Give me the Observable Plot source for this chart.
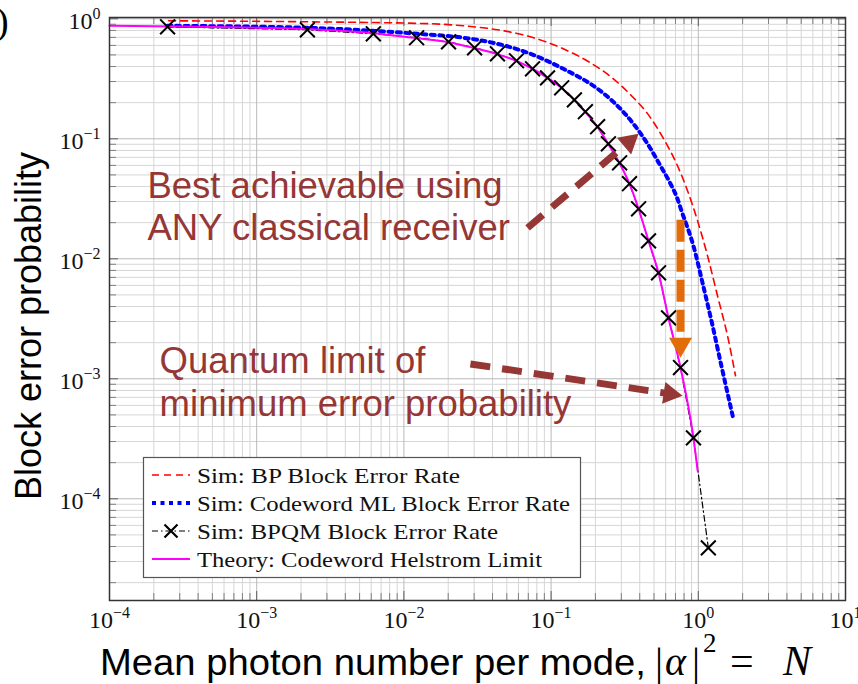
<!DOCTYPE html>
<html>
<head>
<meta charset="utf-8">
<script src="https://cdn.jsdelivr.net/npm/d3@7"></script>
<script src="https://cdn.jsdelivr.net/npm/@observablehq/plot@0.6"></script>
<style>
  html, body { margin: 0; padding: 0; background: #fff; }
  #chart svg { display: block; }
</style>
</head>
<body>
<div id="chart"></div>
<script>
// ---------------- data ----------------
// Sim: BP Block Error Rate (red dashed)
const bpN = [2.52e-4, 2.21e-3, 0.0152, 0.0254, 0.0432, 0.0724, 0.121, 0.185, 0.265, 0.346, 0.452, 0.581, 0.722, 0.845, 0.989, 1.16, 1.35, 1.58, 1.79];
const bpP = [0.962, 0.944, 0.909, 0.874, 0.810, 0.708, 0.562, 0.43, 0.316, 0.233, 0.162, 0.1, 0.0596, 0.0369, 0.0207, 0.0104, 0.00492, 0.00228, 0.00106];
// Sim: Codeword ML Block Error Rate (blue dotted)
const mlN = [2.48e-4, 2.21e-3, 6.2e-3, 0.0124, 0.0254, 0.0432, 0.0724, 0.121, 0.207, 0.265, 0.363, 0.452, 0.553, 0.647, 0.722, 0.769, 0.927, 1.08, 1.25, 1.42, 1.73];
const mlP = [0.874, 0.841, 0.794, 0.750, 0.695, 0.619, 0.511, 0.383, 0.261, 0.203, 0.133, 0.0908, 0.0596, 0.0422, 0.0316, 0.0251, 0.0128, 0.00596, 0.00277, 0.00136, 0.000464];
// Sim: BPQM Block Error Rate (black crosses, dash-dot)
const bpqmN = [2.48e-4, 2.21e-3, 6.2e-3, 0.0122, 0.0201, 0.0302, 0.0432, 0.0582, 0.0748, 0.0946, 0.118, 0.144, 0.171, 0.207, 0.245, 0.292, 0.341, 0.393, 0.459, 0.537, 0.628, 0.757, 0.927, 1.17];
const bpqmP = [0.857, 0.81, 0.75, 0.695, 0.643, 0.573, 0.511, 0.447, 0.383, 0.322, 0.266, 0.211, 0.168, 0.126, 0.0908, 0.0631, 0.0422, 0.0261, 0.0141, 0.00764, 0.00322, 0.00124, 3.22e-4, 3.9e-5];
// Theory: Codeword Helstrom Limit (magenta)
const helN = [1e-4, 1e-3, 2.5e-3, 6e-3, 0.012, 0.02, 0.03, 0.043, 0.058, 0.075, 0.095, 0.118, 0.144, 0.171, 0.207, 0.245, 0.292, 0.341, 0.393, 0.459, 0.537, 0.628, 0.757, 0.927, 0.99];
const helP = [0.874, 0.841, 0.815, 0.762, 0.69, 0.638, 0.57, 0.508, 0.446, 0.382, 0.321, 0.265, 0.21, 0.167, 0.125, 0.09, 0.0625, 0.042, 0.026, 0.0141, 0.0076, 0.0032, 0.00124, 3.22e-4, 1.71e-4];

const xTickDecades = [1e-4, 1e-3, 1e-2, 1e-1, 1, 10];
const yTickDecades = [1e-4, 1e-3, 1e-2, 1e-1, 1];
const minorMultipliers = [2, 3, 4, 5, 6, 7, 8, 9];

const legendLabels = ["Sim: BP Block Error Rate", "Sim: Codeword ML Block Error Rate", "Sim: BPQM Block Error Rate", "Theory: Codeword Helstrom Limit"];

const annotText = ["Best achievable using", "ANY classical receiver", "Quantum limit of", "minimum error probability"];
const annotN = [1.81e-4, 1.81e-4, 2.19e-4, 2.19e-4];
const annotP = [0.0322, 0.0144, 1.12e-3, 4.92e-4];

// annotation arrows: tail (N1,P1) -> tip (N2,P2)
const arrowN1 = [0.0692, 0.0283, 0.757];
const arrowP1 = [0.0181, 0.00133, 0.0211];
const arrowN2 = [0.393, 0.782, 0.757];
const arrowP2 = [0.110, 7.22e-4, 0.0015];

// ---------------- layout ----------------
const W = 858, H = 684, ML = 109, MR = 13, MT = 17, MB = 84;
const plotW = W - ML - MR, plotH = H - MT - MB;
const xDomain = [1e-4, 10];
const yDomain = [1.42e-5, 1.025];

const rows = (a, b) => a.map((n, i) => ({n, p: b[i]}));
const bp = rows(bpN, bpP), ml = rows(mlN, mlP), bpqm = rows(bpqmN, bpqmP), hel = rows(helN, helP);
const annots = annotText.map((t, i) => ({t, n: annotN[i], p: annotP[i]}));

const xMinor = xTickDecades.slice(0, -1).flatMap(d => minorMultipliers.map(k => k * d));
const yMinor = [1e-5, ...yTickDecades].slice(0, -1).flatMap(d => minorMultipliers.map(k => k * d)).filter(v => v > yDomain[0] && v < yDomain[1]);

// replica scales to orient the arrowheads
const xs = d3.scaleLog(xDomain, [ML, W - MR]);
const ys = d3.scaleLog(yDomain, [H - MB, MT]);
const brown = "#953735", orange = "#e36c0a";
const arrowStyle = [
  {color: brown, width: 7, dash: "20,12", side: 22},
  {color: brown, width: 7, dash: "20,12", side: 22},
  {color: orange, width: 8, dash: "22,8", side: 23}
];
const arrows = arrowN1.map((_, i) => {
  const s = arrowStyle[i];
  const x1 = xs(arrowN1[i]), y1 = ys(arrowP1[i]), x2 = xs(arrowN2[i]), y2 = ys(arrowP2[i]);
  const L = Math.hypot(x2 - x1, y2 - y1), ux = (x2 - x1) / L, uy = (y2 - y1) / L;
  const cDist = s.side / Math.sqrt(3), hLen = s.side * Math.sqrt(3) / 2;
  return {
    ...s,
    n1: arrowN1[i], p1: arrowP1[i],
    ne: xs.invert(x2 - ux * (hLen - 2)), pe: ys.invert(y2 - uy * (hLen - 2)),
    hn: xs.invert(x2 - ux * cDist), hp: ys.invert(y2 - uy * cDist),
    angle: Math.atan2(ux, -uy) * 180 / Math.PI,
    r: Math.sqrt((Math.sqrt(3) / 4) * s.side * s.side / Math.PI)
  };
});

const sup = d => {
  const e = Math.round(Math.log10(d));
  return "10^" + (e < 0 ? "\u2212" + (-e) : String(e));
};

const marks = [
  // grid
  Plot.ruleX(xMinor, {x: d => d, stroke: "#d6d6d6", strokeWidth: 1}),
  Plot.ruleY(yMinor, {y: d => d, stroke: "#d6d6d6", strokeWidth: 1}),
  Plot.ruleX(xTickDecades, {x: d => d, stroke: "#b9b9b9", strokeWidth: 1}),
  Plot.ruleY(yTickDecades, {y: d => d, stroke: "#b9b9b9", strokeWidth: 1}),
  // inward tick marks on all four sides
  Plot.ruleX(xMinor, {x: d => d, insetTop: plotH - 7, stroke: "#808080"}),
  Plot.ruleX(xMinor, {x: d => d, insetBottom: plotH - 7, stroke: "#808080"}),
  Plot.ruleX(xTickDecades, {x: d => d, insetTop: plotH - 9, stroke: "#606060"}),
  Plot.ruleX(xTickDecades, {x: d => d, insetBottom: plotH - 9, stroke: "#606060"}),
  Plot.ruleY(yMinor, {y: d => d, insetRight: plotW - 7, stroke: "#808080"}),
  Plot.ruleY(yMinor, {y: d => d, insetLeft: plotW - 7, stroke: "#808080"}),
  Plot.ruleY(yTickDecades, {y: d => d, insetRight: plotW - 9, stroke: "#606060"}),
  Plot.ruleY(yTickDecades, {y: d => d, insetLeft: plotW - 9, stroke: "#606060"}),
  // series
  Plot.line(bp, {x: "n", y: "p", stroke: "#ff0000", strokeWidth: 1.6, strokeDasharray: "7,5", curve: "monotone-x"}),
  Plot.line(ml, {x: "n", y: "p", stroke: "#0000ff", strokeWidth: 4, strokeDasharray: "4,4.5", curve: "monotone-x"}),
  Plot.line(bpqm, {x: "n", y: "p", stroke: "#000", strokeWidth: 1.2, strokeDasharray: "6,3,1.5,3"}),
  Plot.line(hel, {x: "n", y: "p", stroke: "#ff00ff", strokeWidth: 2, curve: "monotone-x"}),
  Plot.dot(bpqm, {x: "n", y: "p", symbol: "times", r: 6.8, stroke: "#000", strokeWidth: 2}),
  // annotations
  Plot.text(annots, {x: "n", y: "p", text: "t", textAnchor: "start", lineAnchor: "bottom", fontSize: 36.5, fontFamily: "Liberation Sans", fill: brown}),
  ...arrows.flatMap(a => [
    Plot.link([a], {x1: "n1", y1: "p1", x2: "ne", y2: "pe", stroke: a.color, strokeWidth: a.width, strokeDasharray: a.dash}),
    Plot.dot([a], {x: "hn", y: "hp", symbol: "triangle", r: a.r, rotate: "angle", fill: a.color, stroke: "none"})
  ]),
  // axes
  Plot.axisX({ticks: xTickDecades, tickSize: 0, tickPadding: 10, tickFormat: sup, fontSize: 24, fontFamily: "Liberation Serif", fill: "#111", label: null}),
  Plot.axisY({ticks: yTickDecades, tickSize: 0, tickPadding: 9, tickFormat: sup, fontSize: 24, fontFamily: "Liberation Serif", fill: "#111", label: null}),
  Plot.frame({stroke: "#333", strokeWidth: 1.5})
];

const chart = Plot.plot({
  width: W, height: H,
  marginLeft: ML, marginRight: MR, marginTop: MT, marginBottom: MB,
  x: {type: "log", domain: xDomain},
  y: {type: "log", domain: yDomain},
  style: {fontFamily: "Liberation Sans", background: "#fff", overflow: "visible"},
  marks
});
document.getElementById("chart").appendChild(chart);

// ---------------- post-processing: superscripts, legend, titles ----------------
const svg = d3.select(chart);
svg.selectAll('g[aria-label="x-axis tick label"] text, g[aria-label="y-axis tick label"] text').each(function () {
  const s = this.textContent;
  const [b, e] = s.split("^");
  const t = d3.select(this);
  t.text(null);
  t.append("tspan").text(b);
  t.append("tspan").attr("font-size", 16).attr("dy", -10).text(e);
});
svg.selectAll('g[aria-label="y-axis tick label"] text').attr("y", "0.42em");

// legend
const lg = svg.append("g").attr("font-family", "Liberation Serif").attr("font-size", 22)
  .attr("fill", "#111").attr("text-anchor", "start");
lg.append("rect").attr("x", 143.5).attr("y", 457.5).attr("width", 437).attr("height", 120)
  .attr("fill", "#fff").attr("stroke", "#555").attr("stroke-width", 1.2);
const rowY = [475, 503, 531, 559];
const textLen = [263, 373, 301, 345];
const samples = [
  {stroke: "#ff0000", width: 1.6, dash: "7,5"},
  {stroke: "#0000ff", width: 4, dash: "4,4.5"},
  {stroke: "#000", width: 1.2, dash: "6,3,1.5,3"},
  {stroke: "#ff00ff", width: 2, dash: null}
];
legendLabels.forEach((lab, i) => {
  const y = rowY[i], s = samples[i];
  lg.append("line").attr("x1", 152).attr("x2", 190).attr("y1", y).attr("y2", y)
    .attr("stroke", s.stroke).attr("stroke-width", s.width).attr("stroke-dasharray", s.dash);
  if (i === 2) {
    lg.append("path").attr("d", "M164.5,524.5L177.5,537.5M164.5,537.5L177.5,524.5").attr("stroke", "#000").attr("stroke-width", 2.2).attr("fill", "none");
  }
  lg.append("text").attr("x", 197).attr("y", y + 8).attr("textLength", textLen[i]).attr("lengthAdjust", "spacingAndGlyphs").text(lab);
});

// axis titles
svg.append("text").attr("transform", "translate(41,326) rotate(-90)").attr("text-anchor", "middle")
  .attr("font-family", "Liberation Sans").attr("font-size", 36).attr("fill", "#000").text("Block error probability");
svg.append("text").attr("x", 100).attr("y", 675).attr("text-anchor", "start").attr("font-family", "Liberation Sans").attr("font-size", 36)
  .attr("fill", "#000").attr("textLength", 546).attr("lengthAdjust", "spacingAndGlyphs").text("Mean photon number per mode,");
const mt = svg.append("text").attr("y", 675).attr("text-anchor", "start").attr("font-family", "Liberation Serif").attr("font-size", 40).attr("fill", "#000");
mt.append("tspan").attr("x", 655).text("|");
mt.append("tspan").attr("x", 665).attr("font-style", "italic").text("α");
mt.append("tspan").attr("x", 692).text("|");
mt.append("tspan").attr("x", 703).attr("y", 652).attr("font-size", 27).text("2");
mt.append("tspan").attr("x", 730).attr("y", 675).attr("font-size", 42).text("=");
mt.append("tspan").attr("x", 783).attr("font-size", 42).attr("font-style", "italic").text("N");

// cut-off panel label
svg.append("text").attr("x", -4).attr("y", 34).attr("text-anchor", "start").attr("font-family", "Liberation Serif").attr("font-size", 38).attr("fill", "#000").text(")");
</script>
</body>
</html>
